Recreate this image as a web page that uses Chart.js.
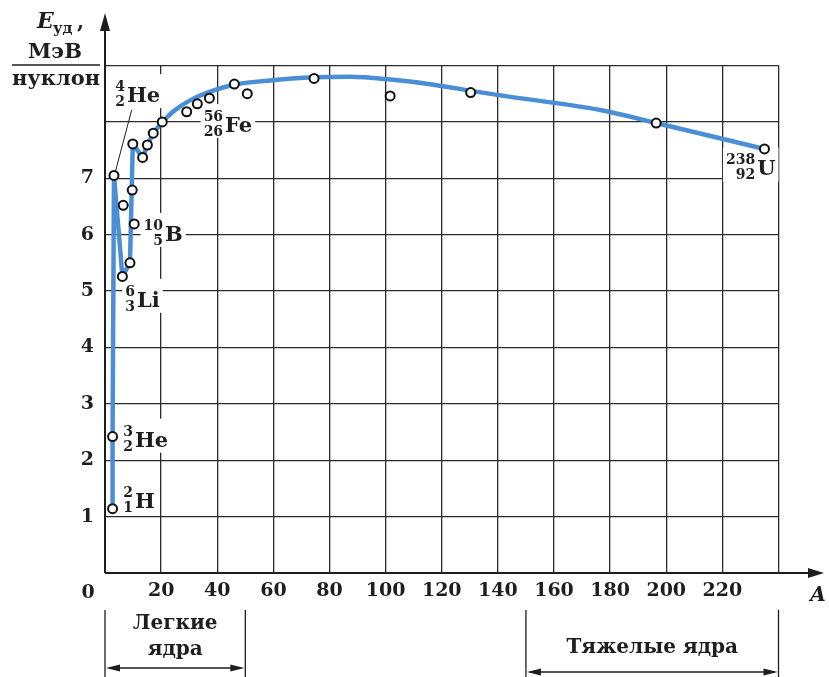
<!DOCTYPE html>
<html>
<head>
<meta charset="utf-8">
<script src="https://cdn.jsdelivr.net/npm/chart.js@4.4.1/dist/chart.umd.min.js"></script>
<style>
html, body { margin: 0; background: #fff; }
canvas { display: block; }
</style>
</head>
<body>
<canvas id="energy" width="829" height="677"></canvas>
<script>
// measured nuclei (circles)
const nucleiA = [2.7, 2.7, 3.2, 6.2, 8.9, 6.5, 10.4, 9.7, 9.9, 13.4, 15.1, 17.2, 20.4, 29.1, 32.9, 37.2, 46.1, 50.7, 74.5, 101.6, 130.3, 196.4, 235];
const nucleiE = [1.14, 2.42, 7.05, 5.26, 5.50, 6.52, 6.19, 6.79, 7.61, 7.37, 7.59, 7.80, 8.00, 8.18, 8.32, 8.42, 8.67, 8.50, 8.77, 8.46, 8.52, 7.98, 7.52];

// blue curve, light nuclei part (broken line)
const lightA = [2.7, 2.7, 3.2, 6.2, 8.9, 9.9, 13.4, 15.1, 17.2, 20.4];
const lightE = [1.14, 2.42, 7.05, 5.26, 5.50, 7.61, 7.37, 7.59, 7.80, 8.00];

// blue curve, smooth part
const curveA = [20.4, 24.7, 30.6, 36.5, 46, 57.9, 74.6, 87.5, 101.8, 117.1, 130.5, 140.9, 176.5, 196.4, 235];
const curveE = [8.00, 8.20, 8.39, 8.52, 8.66, 8.73, 8.79, 8.80, 8.75, 8.66, 8.55, 8.47, 8.21, 7.98, 7.52];

const xTicks = [0, 20, 40, 60, 80, 100, 120, 140, 160, 180, 200, 220, 240];
const xTickLabels = ['', '20', '40', '60', '80', '100', '120', '140', '160', '180', '200', '220', ''];
const yTicks = [0, 1, 2, 3, 4, 5, 6, 7, 8, 9];
const yTickLabels = ['', '1', '2', '3', '4', '5', '6', '7', '', ''];

const SERIF = '"DejaVu Serif", serif';
const INK = '#1e1e1e';
const BLUE = '#4a8fd6';

function toPoints(xs, ys) {
    return xs.map((v, i) => ({ x: v, y: ys[i] }));
}

// nuclide label: mass, charge, symbol, anchored at symbol left / baseline
function nuclide(ctx, px, py, mass, charge, sym) {
    ctx.font = 'bold 21px ' + SERIF;
    const symW = ctx.measureText(sym).width;
    ctx.font = 'bold 14px ' + SERIF;
    const numW = Math.max(ctx.measureText(mass).width, ctx.measureText(charge).width);
    ctx.fillStyle = '#fff';
    ctx.fillRect(px - numW - 5, py - 28, numW + symW + 8, 34);

    ctx.fillStyle = INK;
    ctx.textAlign = 'right';
    ctx.textBaseline = 'alphabetic';
    ctx.fillText(mass, px - 2, py - 11);
    ctx.fillText(charge, px - 2, py + 4);
    ctx.font = 'bold 21px ' + SERIF;
    ctx.textAlign = 'left';
    ctx.fillText(sym, px, py);
}

function arrowHead(ctx, x, y, dir, len, half) {
    ctx.beginPath();
    if (dir === 'up') {
        ctx.moveTo(x, y); ctx.lineTo(x - half, y + len); ctx.lineTo(x + half, y + len);
    } else if (dir === 'right') {
        ctx.moveTo(x, y); ctx.lineTo(x - len, y - half); ctx.lineTo(x - len, y + half);
    } else {
        ctx.moveTo(x, y); ctx.lineTo(x + len, y - half); ctx.lineTo(x + len, y + half);
    }
    ctx.closePath();
    ctx.fill();
}

function bracket(ctx, x1, x2, top, bottom, arrowY) {
    ctx.lineWidth = 1.3;
    ctx.beginPath();
    ctx.moveTo(x1, top); ctx.lineTo(x1, bottom);
    ctx.moveTo(x2, top); ctx.lineTo(x2, bottom);
    ctx.moveTo(x1 + 4, arrowY); ctx.lineTo(x2 - 4, arrowY);
    ctx.stroke();
    arrowHead(ctx, x1 + 1, arrowY, 'left', 14, 3.5);
    arrowHead(ctx, x2 - 1, arrowY, 'right', 14, 3.5);
}

const decor = {
    id: 'decor',
    beforeDatasetsDraw(chart) {
        const { ctx, scales: { x, y } } = chart;
        ctx.save();
        nuclide(ctx, x.getPixelForValue(7.8), y.getPixelForValue(8.35), '4', '2', 'He');
        nuclide(ctx, x.getPixelForValue(42.8), y.getPixelForValue(7.82), '56', '26', 'Fe');
        nuclide(ctx, x.getPixelForValue(21.4), y.getPixelForValue(5.89), '10', '5', 'B');
        nuclide(ctx, x.getPixelForValue(11.4), y.getPixelForValue(4.72), '6', '3', 'Li');
        nuclide(ctx, x.getPixelForValue(10.7), y.getPixelForValue(2.24), '3', '2', 'He');
        nuclide(ctx, x.getPixelForValue(10.7), y.getPixelForValue(1.16), '2', '1', 'H');
        nuclide(ctx, x.getPixelForValue(232.4), y.getPixelForValue(7.05), '238', '92', 'U');

        // leader line to 4He
        ctx.strokeStyle = INK;
        ctx.lineWidth = 1;
        ctx.beginPath();
        ctx.moveTo(x.getPixelForValue(3.6), y.getPixelForValue(7.1));
        ctx.lineTo(x.getPixelForValue(9.5), y.getPixelForValue(8.21));
        ctx.stroke();
        ctx.restore();
    },
    afterDraw(chart) {
        const { ctx, scales: { x, y } } = chart;
        const x0 = x.getPixelForValue(0);
        const y0 = y.getPixelForValue(0);
        ctx.save();
        ctx.strokeStyle = INK;
        ctx.fillStyle = INK;

        // axes with arrows
        ctx.lineWidth = 2;
        ctx.beginPath();
        ctx.moveTo(x0, y0); ctx.lineTo(812, y0);
        ctx.moveTo(x0, y0); ctx.lineTo(x0, 28);
        ctx.stroke();
        arrowHead(ctx, 824, y0, 'right', 16, 5);
        arrowHead(ctx, x0, 13, 'up', 18, 5);

        // origin and axis name
        ctx.font = 'bold 19px ' + SERIF;
        ctx.textAlign = 'center';
        ctx.textBaseline = 'middle';
        ctx.fillText('0', 88, 593);
        ctx.font = 'italic bold 20px ' + SERIF;
        ctx.fillText('A', 818, 596);

        // y title: E_уд, МэВ / нуклон
        ctx.textBaseline = 'alphabetic';
        ctx.textAlign = 'left';
        ctx.font = 'italic bold 22px ' + SERIF;
        ctx.fillText('E', 37, 28);
        ctx.font = 'bold 15px ' + SERIF;
        ctx.fillText('уд', 53, 33);
        ctx.font = 'bold 20px ' + SERIF;
        ctx.fillText(',', 77, 28);
        ctx.textAlign = 'center';
        ctx.font = 'bold 21px ' + SERIF;
        ctx.fillText('МэВ', 55, 58);
        ctx.fillText('нуклон', 56, 85);
        ctx.lineWidth = 1.5;
        ctx.beginPath();
        ctx.moveTo(12, 65); ctx.lineTo(100, 65);
        ctx.stroke();

        // light / heavy nuclei brackets
        const l1 = x.getPixelForValue(0), l2 = x.getPixelForValue(50);
        const h1 = x.getPixelForValue(150), h2 = x.getPixelForValue(240);
        bracket(ctx, l1, l2, 610, 677, 668);
        bracket(ctx, h1, h2, 610, 677, 672);
        ctx.font = 'bold 20px ' + SERIF;
        ctx.textBaseline = 'middle';
        ctx.fillText('Легкие', (l1 + l2) / 2, 624);
        ctx.fillText('ядра', (l1 + l2) / 2, 650);
        ctx.fillText('Тяжелые ядра', (h1 + h2) / 2, 648);
        ctx.restore();
    }
};

const ctx = document.getElementById('energy').getContext('2d');
const chart = new Chart(ctx, {
    type: 'scatter',
    data: {
        datasets: [{
            data: toPoints(nucleiA, nucleiE),
            order: 0,
            pointRadius: 4.5,
            pointBorderWidth: 2,
            pointBackgroundColor: '#fff',
            pointBorderColor: '#111',
            showLine: false
        }, {
            type: 'line',
            data: toPoints(lightA, lightE),
            order: 1,
            borderColor: BLUE,
            borderWidth: 4.5,
            pointRadius: 0,
            tension: 0,
            borderJoinStyle: 'round',
            borderCapStyle: 'round'
        }, {
            type: 'line',
            data: toPoints(curveA, curveE),
            order: 2,
            borderColor: BLUE,
            borderWidth: 4.5,
            pointRadius: 0,
            cubicInterpolationMode: 'monotone',
            borderCapStyle: 'round'
        }]
    },
    options: {
        responsive: false,
        animation: false,
        layout: {
            padding: { top: 65.5, right: 50.5, bottom: 0, left: 0 }
        },
        plugins: {
            legend: { display: false },
            tooltip: { enabled: false }
        },
        scales: {
            x: {
                type: 'linear',
                min: 0,
                max: 240,
                afterBuildTicks: s => { s.ticks = xTicks.map(v => ({ value: v })); },
                afterFit: s => { s.height = 104; },
                border: { display: false },
                grid: { color: '#2a2a2a', lineWidth: 1.3, drawTicks: false },
                ticks: {
                    padding: 7,
                    color: INK,
                    maxRotation: 0,
                    autoSkip: false,
                    font: { family: SERIF, size: 19, weight: 'bold' },
                    callback: (v, i) => xTickLabels[i]
                }
            },
            y: {
                min: 0,
                max: 9,
                afterBuildTicks: s => { s.ticks = yTicks.map(v => ({ value: v })); },
                afterFit: s => { s.width = 105; },
                border: { display: false },
                grid: { color: '#2a2a2a', lineWidth: 1.3, drawTicks: false },
                ticks: {
                    padding: 11,
                    color: INK,
                    autoSkip: false,
                    font: { family: SERIF, size: 19, weight: 'bold' },
                    callback: (v, i) => yTickLabels[i]
                }
            }
        }
    },
    plugins: [decor]
});
</script>
</body>
</html>
